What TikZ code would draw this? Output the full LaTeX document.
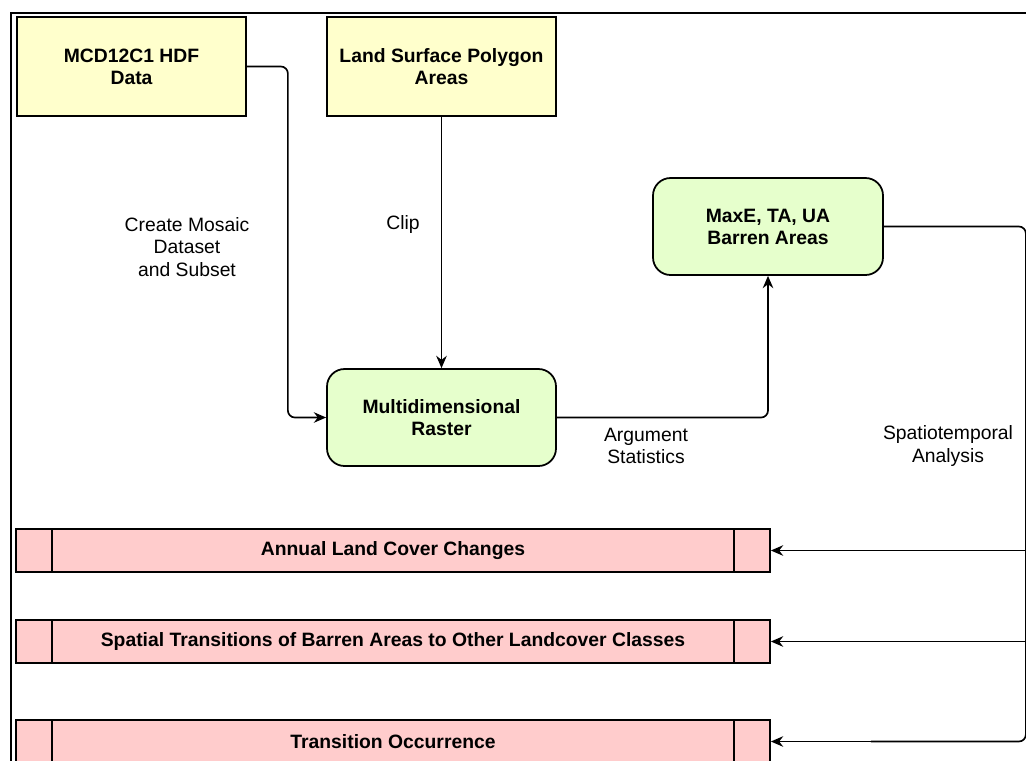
\documentclass[tikz,border=0pt]{standalone}
\usepackage{fontspec}
\setmainfont{Liberation Sans}
\usetikzlibrary{arrows.meta}

\definecolor{amarillo}{HTML}{FFFFCC}
\definecolor{verde}{HTML}{E6FFCC}
\definecolor{rosa}{HTML}{FFCCCC}

\begin{document}
\begin{tikzpicture}[
        every node/.style={font=\fontsize{11}{12.5}\selectfont},
        entrada/.style={draw, line width=1pt, fill=amarillo, minimum width=4.58cm, minimum height=1.98cm, align=center, font=\fontsize{11}{12.5}\selectfont\bfseries},
        proceso/.style={draw, line width=1pt, fill=verde, rounded corners=10pt, minimum width=4.58cm, minimum height=1.94cm, align=center, font=\fontsize{11}{12.5}\selectfont\bfseries},
        resultado/.style={draw, line width=1pt, fill=rosa, minimum width=15.08cm, minimum height=0.86cm, font=\fontsize{11}{12.5}\selectfont\bfseries,
            path picture={
                \draw[line width=1pt] ([xshift=0.72cm]path picture bounding box.north west) -- ([xshift=0.72cm]path picture bounding box.south west);
                \draw[line width=1pt] ([xshift=-0.72cm]path picture bounding box.north east) -- ([xshift=-0.72cm]path picture bounding box.south east);
            }},
        etiqueta/.style={align=center, font=\fontsize{11}{13}\selectfont},
        flecha/.style={line width=0.95pt, rounded corners=4pt, -{Stealth[length=7pt, width=6pt]}},
        linea/.style={line width=0.95pt, rounded corners=4pt}
    ]
    \useasboundingbox (0,0) rectangle (20.52,-15.2);

    % Marco
    \draw[line width=1.2pt] (0.22,-15.4) -- (0.22,-0.26) -- (20.7,-0.26);

    % Datos de entrada
    \node[entrada] (datos) at (2.63,-1.33) {MCD12C1 HDF\\Data};
    \node[entrada] (poligonos) at (8.83,-1.33) {Land Surface Polygon\\Areas};

    % Procesos
    \node[proceso] (raster) at (8.83,-8.35) {Multidimensional\\Raster};
    \node[proceso, minimum width=4.6cm] (baldios) at (15.36,-4.53) {MaxE, TA, UA\\Barren Areas};

    % Resultados
    \node[resultado] (cambios) at (7.86,-11.01) {Annual Land Cover Changes};
    \node[resultado] (transiciones) at (7.86,-12.83) {Spatial Transitions of Barren Areas to Other Landcover Classes};
    \node[resultado] (ocurrencia) at (7.86,-14.83) {Transition Occurrence};

    % Etiquetas
    \node[etiqueta] (mosaico) at (3.74,-4.94) {Create Mosaic\\Dataset\\and Subset};
    \node[etiqueta] (recorte) at (8.06,-4.48) {Clip};
    \node[etiqueta] (estadisticas) at (12.92,-8.92) {Argument\\Statistics};
    \node[etiqueta] (analisis) at (18.96,-8.92) {Spatiotemporal\\Analysis};

    % Aristas
    \draw[flecha] (datos.east) -- ++(0.82,0) |- (raster.west);
    \draw[flecha] (poligonos.south) -- (raster.north);
    \draw[flecha] (raster.east) -| (baldios.south);
    \draw[linea] (baldios.east) -- ++(2.84,0) coordinate (esquina) |- ([xshift=2cm]ocurrencia.east);
    \draw[flecha] (esquina |- cambios.east) -- (cambios.east);
    \draw[flecha] (esquina |- transiciones.east) -- (transiciones.east);
    \draw[flecha] ([xshift=2.5cm]ocurrencia.east) -- (ocurrencia.east);
\end{tikzpicture}
\end{document}
